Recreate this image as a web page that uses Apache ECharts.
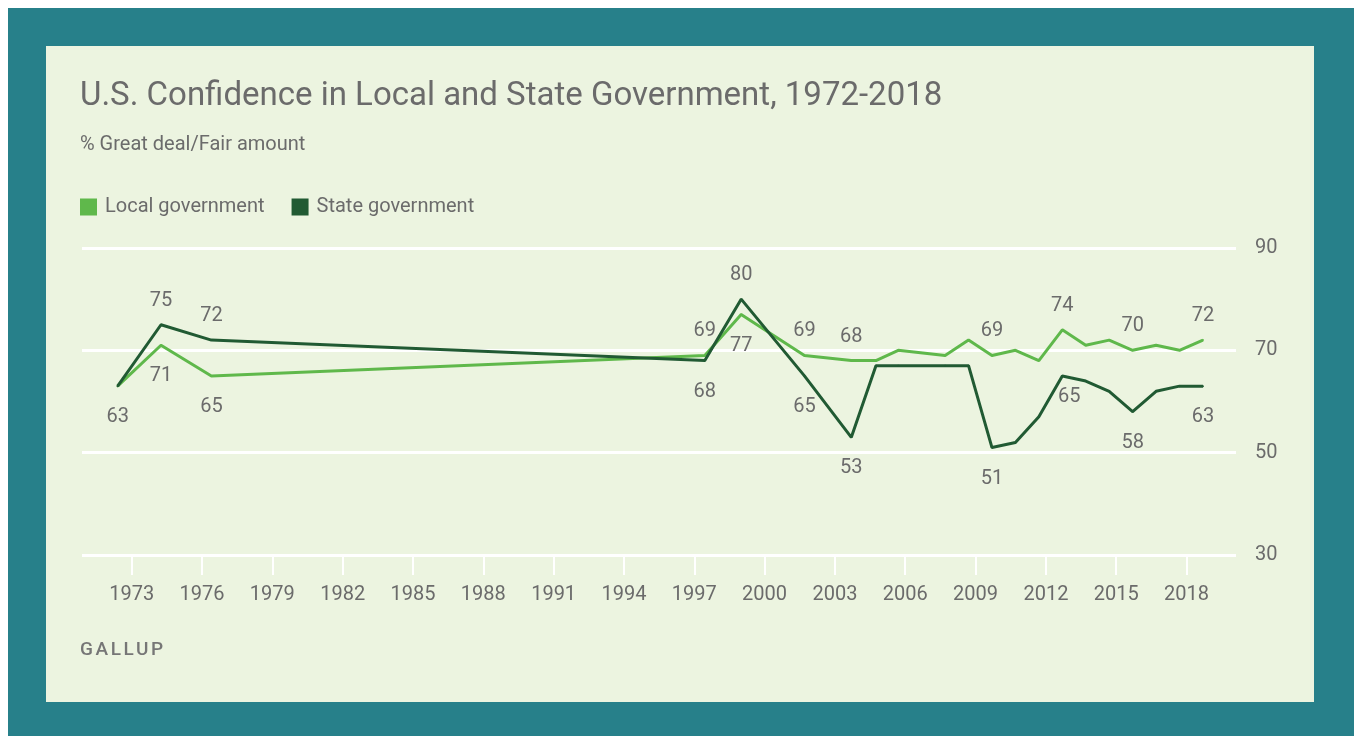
<!DOCTYPE html>
<html>
<head>
<meta charset="utf-8">
<script src="https://cdn.jsdelivr.net/npm/echarts@6/dist/echarts.min.js"></script>
<style>
  html, body { margin: 0; padding: 0; background: #ffffff; }
  #wrap { position: relative; width: 1354px; height: 736px; }
  #chart { width: 1354px; height: 736px; }
  #source { position: absolute; left: 80px; top: 638px; font: 500 19px Roboto, "Liberation Sans", Arial, sans-serif;
            letter-spacing: 2.6px; color: #767676; line-height: 22px; }
</style>
</head>
<body>
<div id="wrap">
  <div id="chart"></div>
  <div id="source"></div>
</div>
<script>
// ---- data ----
const years = [1972.4, 1974.25, 1976.4, 1997.45, 1999.0, 2001.7, 2003.7, 2004.75, 2005.7, 2007.7,
               2008.7, 2009.7, 2010.7, 2011.7, 2012.7, 2013.7, 2014.7, 2015.7, 2016.7, 2017.7, 2018.7];
const localValues = [63, 71, 65, 69, 77, 69, 68, 68, 70, 69, 72, 69, 70, 68, 74, 71, 72, 70, 71, 70, 72];
const stateValues = [63, 75, 72, 68, 80, 65, 53, 67, 67, 67, 67, 51, 52, 57, 65, 64, 62, 58, 62, 63, 63];
// which points carry a value label ('' = none)
const localLabels = ['bottom','bottom','bottom','top','bottom','top','top','','','',
                     '','top','','','top','','','top','','','top'];
const stateLabels = ['','top','top','bottom','top','bottom','bottom','','','',
                     '','bottom','','','bottomNear','','','bottom','','','bottom'];
const xTickLabels = [1973, 1976, 1979, 1982, 1985, 1988, 1991, 1994, 1997, 2000, 2003, 2006, 2009, 2012, 2015, 2018];
const yTicks = [30, 50, 70, 90];
const seriesNames = ['Local government', 'State government'];
const titleText = 'U.S. Confidence in Local and State Government, 1972-2018';
const subtitleText = '% Great deal/Fair amount';
const sourceText = 'GALLUP';

// ---- styling ----
const LOCAL_COLOR = '#5fb84b';
const STATE_COLOR = '#215a33';
const TEXT_COLOR = '#6b6b6b';
const FONT = 'Roboto, "Liberation Sans", Arial, sans-serif';

document.getElementById('source').textContent = sourceText;

const labelStyles = {
  top: { show: true, position: 'top', distance: 13 },
  bottom: { show: true, position: 'bottom', distance: 20 },
  bottomNear: { show: true, position: 'bottom', distance: 10, offset: [7, 0] }
};

function buildData(values, labels) {
  return years.map((y, i) => {
    const item = { value: [y, values[i]] };
    if (labels[i]) item.label = labelStyles[labels[i]];
    return item;
  });
}

const chart = echarts.init(document.getElementById('chart'), null, { renderer: 'canvas' });

const labelBase = {
  show: false,
  color: TEXT_COLOR,
  fontSize: 20,
  fontFamily: FONT,
  formatter: p => String(p.value[1])
};

const option = {
  animation: false,
  backgroundColor: '#ffffff',
  graphic: [
    { type: 'rect', z: -10, silent: true, shape: { x: 8, y: 8, width: 1346, height: 728 }, style: { fill: '#27808a' } },
    { type: 'rect', z: -9, silent: true, shape: { x: 46, y: 46, width: 1268, height: 656 }, style: { fill: '#ecf4e0' } },
    { type: 'text', z: 5, silent: true, style: { x: 80, y: 97, text: titleText, font: '33px ' + FONT, fill: TEXT_COLOR, textVerticalAlign: 'middle' } },
    { type: 'text', z: 5, silent: true, style: { x: 80, y: 145, text: subtitleText, font: '20px ' + FONT, fill: TEXT_COLOR, textVerticalAlign: 'middle' } }
  ],
  legend: {
    left: 80,
    top: 197,
    padding: 0,
    itemWidth: 17,
    itemHeight: 17,
    itemGap: 27,
    icon: 'rect',
    data: seriesNames,
    textStyle: { color: TEXT_COLOR, fontSize: 20, fontFamily: FONT, padding: [0, 0, 0, 3] }
  },
  grid: { left: 82, right: 118, top: 248, bottom: 181, containLabel: false },
  xAxis: {
    type: 'value',
    min: 1970.88,
    max: 2020.11,
    axisLine: { show: false },
    splitLine: { show: false },
    axisTick: {
      show: true,
      customValues: xTickLabels,
      length: 20,
      lineStyle: { color: '#ffffff', width: 2 }
    },
    axisLabel: {
      customValues: xTickLabels,
      margin: 30,
      color: TEXT_COLOR,
      fontSize: 20,
      fontFamily: FONT,
      formatter: v => String(v)
    }
  },
  yAxis: {
    type: 'value',
    position: 'right',
    min: yTicks[0],
    max: yTicks[yTicks.length - 1],
    interval: 20,
    axisLine: { show: false },
    axisTick: { show: false },
    splitLine: { show: true, lineStyle: { color: '#ffffff', width: 3 } },
    axisLabel: { margin: 19, color: TEXT_COLOR, fontSize: 20, fontFamily: FONT }
  },
  series: [
    {
      name: seriesNames[0],
      type: 'line',
      data: buildData(localValues, localLabels),
      color: LOCAL_COLOR,
      symbol: 'circle',
      symbolSize: 2,
      showSymbol: true,
      lineStyle: { color: LOCAL_COLOR, width: 3 },
      itemStyle: { color: LOCAL_COLOR },
      label: labelBase,
      z: 2
    },
    {
      name: seriesNames[1],
      type: 'line',
      data: buildData(stateValues, stateLabels),
      color: STATE_COLOR,
      symbol: 'circle',
      symbolSize: 2,
      showSymbol: true,
      lineStyle: { color: STATE_COLOR, width: 3 },
      itemStyle: { color: STATE_COLOR },
      label: labelBase,
      z: 3
    }
  ]
};

chart.setOption(option);
</script>
</body>
</html>
